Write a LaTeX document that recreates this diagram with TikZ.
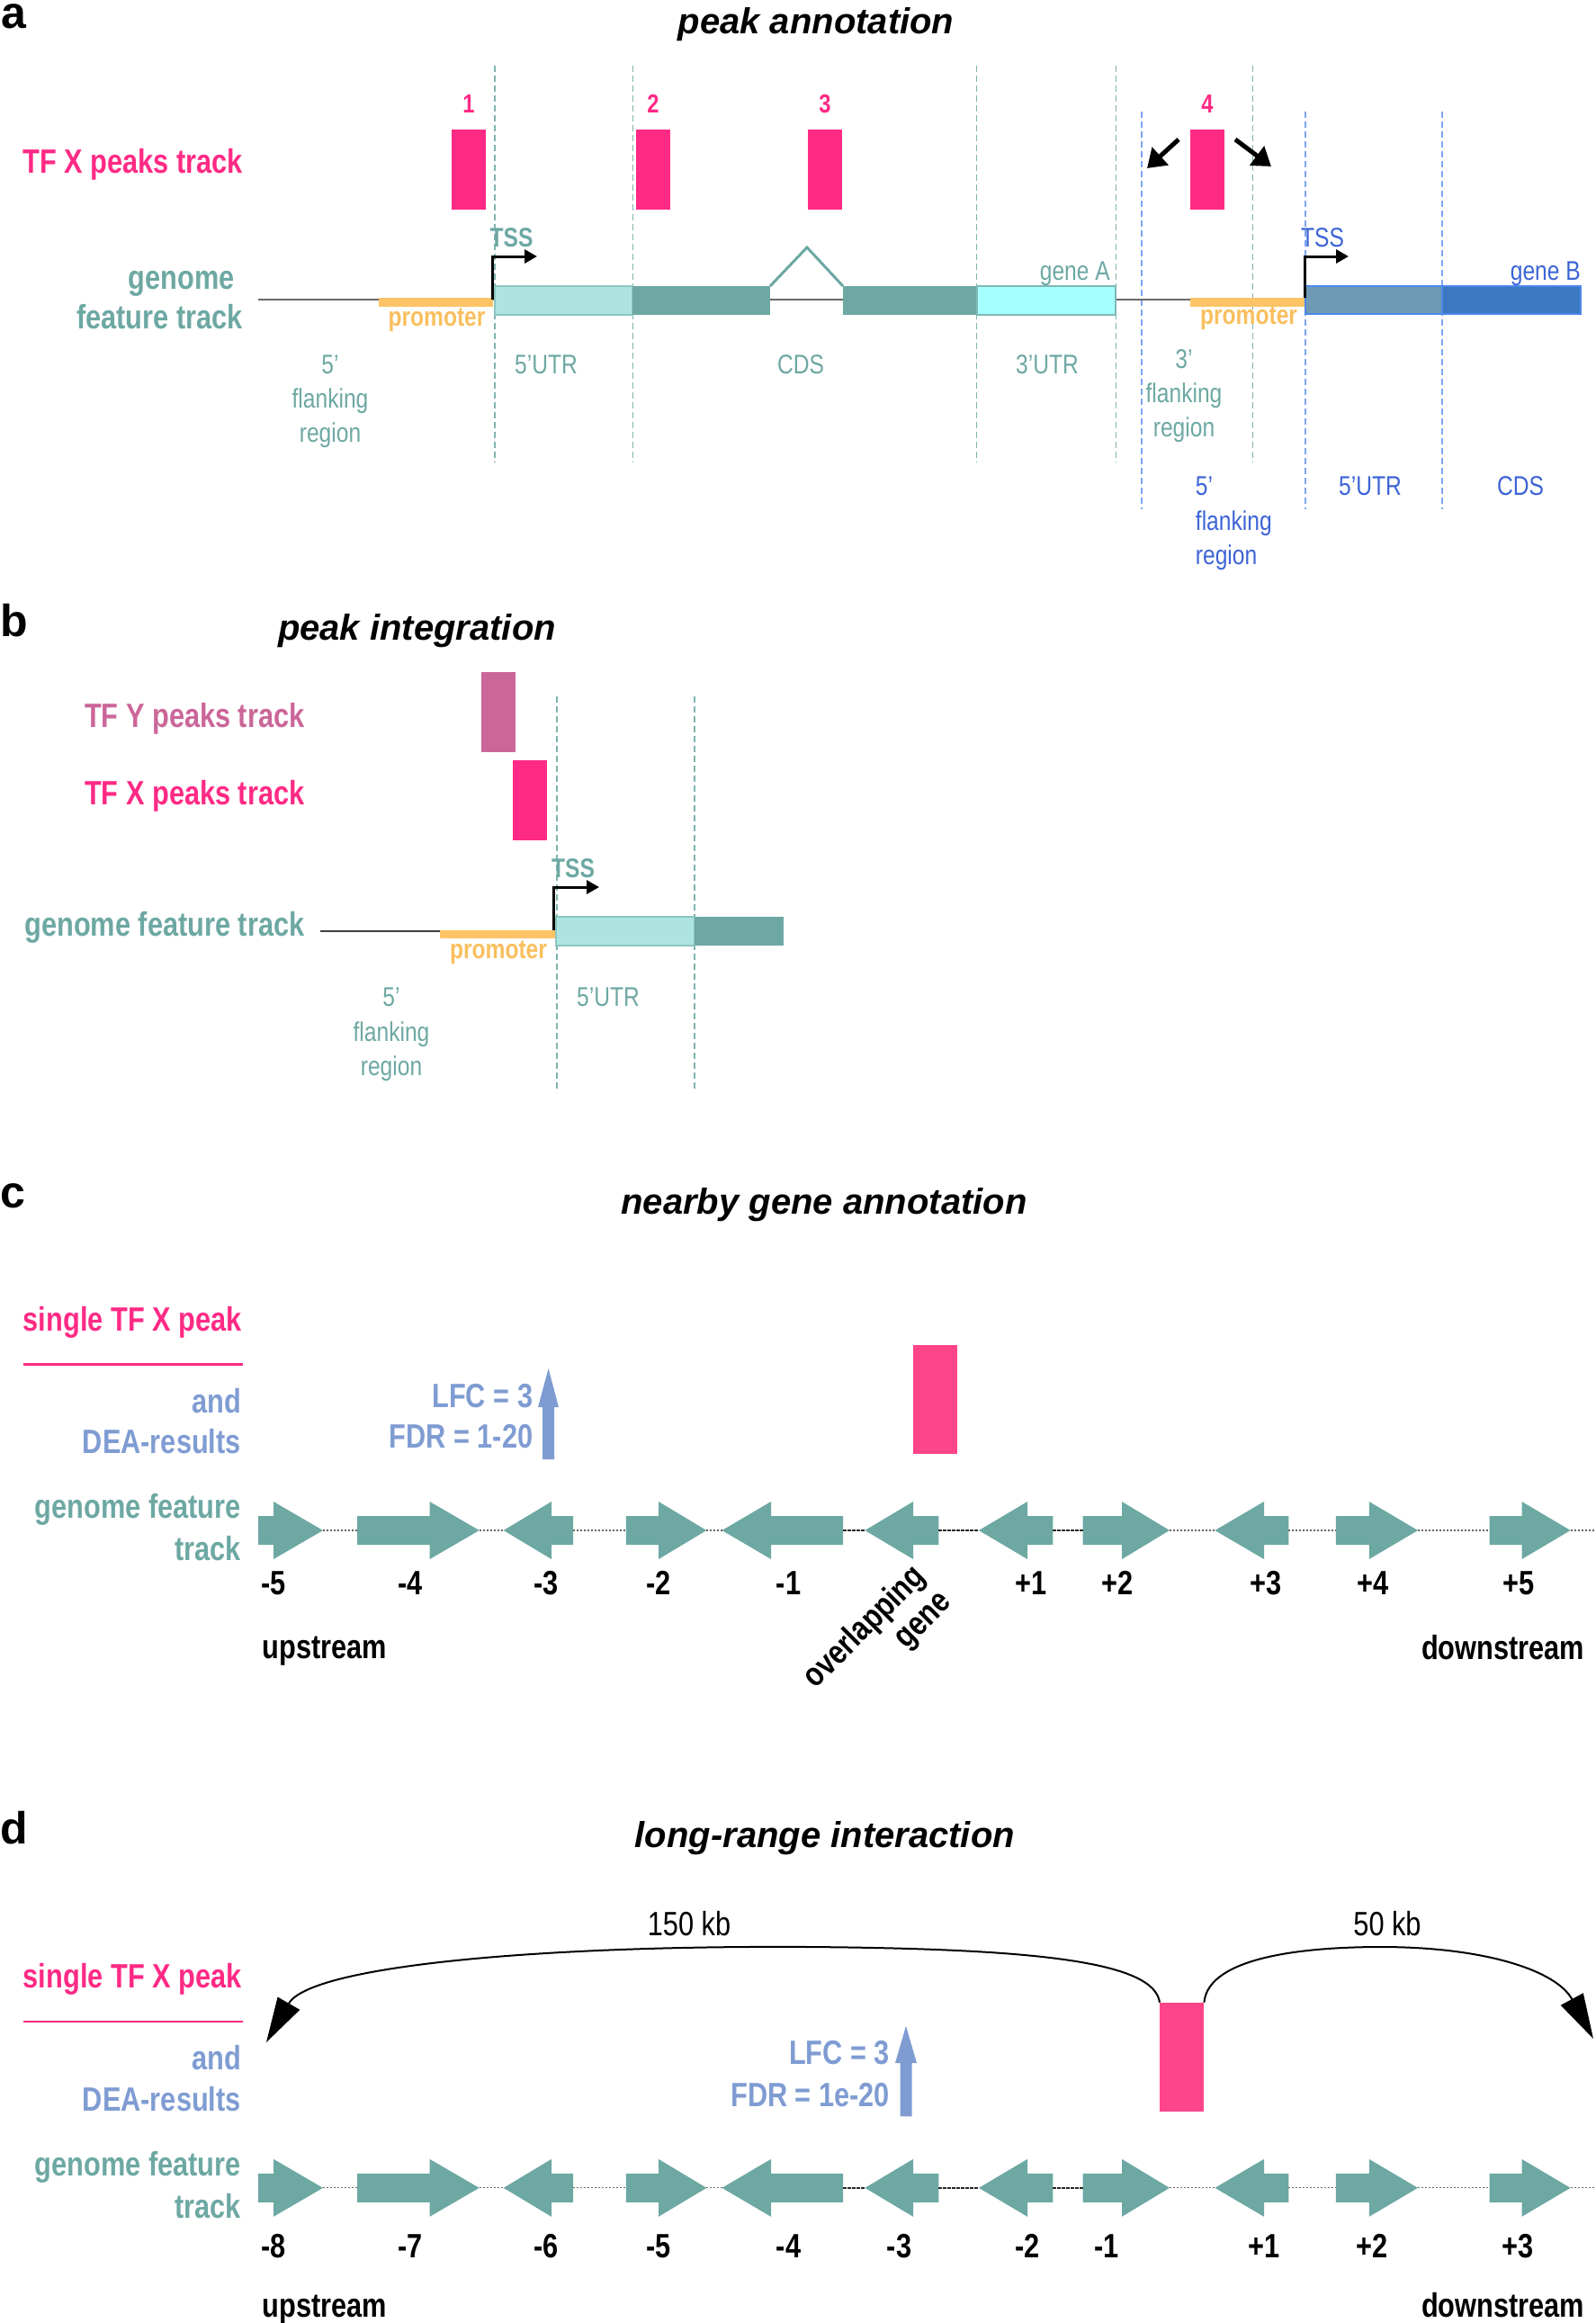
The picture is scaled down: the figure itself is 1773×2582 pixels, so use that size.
\documentclass[tikz,border=0pt]{standalone}
\usepackage{fontspec}
\setmainfont{Liberation Sans}
\newfontfamily\nar{Liberation Sans}[FakeStretch=0.82]
\usetikzlibrary{arrows.meta,calc}
\definecolor{pinkT}{HTML}{FF2A85}
\definecolor{pinkP}{HTML}{FF4589}
\definecolor{teal1}{HTML}{6DA8A3}
\definecolor{tealD}{HTML}{7FB3AE}
\definecolor{utrfive}{HTML}{ADE4E0}
\definecolor{utrfiveb}{HTML}{8CC6C1}
\definecolor{utrthree}{HTML}{A6FFFF}
\definecolor{utrthreeb}{HTML}{80B8B3}
\definecolor{mauve}{HTML}{CB6699}
\definecolor{orangeB}{HTML}{FCC466}
\definecolor{orangeT}{HTML}{F9BF5E}
\definecolor{blueT}{HTML}{3D64D6}
\definecolor{blueD}{HTML}{7DA4F2}
\definecolor{gBfive}{HTML}{6E9AB4}
\definecolor{gBcds}{HTML}{3C78C1}
\definecolor{gBb}{HTML}{4D88EC}
\definecolor{dea}{HTML}{7F9CD2}
\definecolor{gline}{HTML}{6A6A6A}
\newcommand{\geneR}[5]{%
  \fill[gene] (#3,#2-16) -- (#4,#2-16) -- (#4,#2-32) -- (#5,#2) -- (#4,#2+32) -- (#4,#2+16) -- (#3,#2+16) -- cycle;
  \coordinate (#1w) at (#3,#2); \coordinate (#1e) at (#5,#2);}
\newcommand{\geneL}[5]{%
  \fill[gene] (#3,#2) -- (#4,#2-32) -- (#4,#2-16) -- (#5,#2-16) -- (#5,#2+16) -- (#4,#2+16) -- (#4,#2+32) -- cycle;
  \coordinate (#1w) at (#3,#2); \coordinate (#1e) at (#5,#2);}
\newcommand{\genetrack}[2]{%
  \geneR{#1a}{#2}{287}{304}{359}
  \geneR{#1b}{#2}{397}{477.6}{532.7}
  \geneL{#1c}{#2}{559.7}{613}{637}
  \geneR{#1d}{#2}{695.8}{732}{785.3}
  \geneL{#1e}{#2}{802.5}{857}{937}
  \geneL{#1f}{#2}{961.4}{1015}{1043.4}
  \geneL{#1g}{#2}{1088}{1142}{1170.4}
  \geneR{#1h}{#2}{1203.5}{1247}{1300}
  \geneL{#1i}{#2}{1350.4}{1405}{1432.4}
  \geneR{#1j}{#2}{1484.8}{1521.8}{1576}
  \geneR{#1k}{#2}{1655.6}{1691.5}{1745.6}
  \coordinate (#1z) at (1773,#2);
  \draw[dotc] (#1ae) -- (#1bw);
  \draw[dotc] (#1be) -- (#1cw);
  \draw[dotc] (#1ce) -- (#1dw);
  \draw[dotc] (#1de) -- (#1ew);
  \draw[solc] (#1ee) -- (#1fw);
  \draw[solc] (#1fe) -- (#1gw);
  \draw[solc] (#1ge) -- (#1hw);
  \draw[dotc] (#1he) -- (#1iw);
  \draw[dotc] (#1ie) -- (#1jw);
  \draw[dotc] (#1je) -- (#1kw);
  \draw[dotc] (#1ke) -- (#1z);}
\begin{document}
\begin{tikzpicture}[x=1pt,y=-1pt,
  lab/.style={inner sep=0pt, font=\nar\bfseries\fontsize{37.5}{45}\selectfont},
  reg/.style={inner sep=0pt, font=\nar\fontsize{30}{38}\selectfont},
  small/.style={inner sep=0pt, font=\nar\bfseries\fontsize{30}{36}\selectfont},
  pnum/.style={inner sep=0pt, text=pinkT, font=\nar\bfseries\fontsize{29}{34}\selectfont},
  kb/.style={inner sep=0pt, font=\nar\fontsize{37.5}{45}\selectfont},
  ttl/.style={inner sep=0pt, font=\bfseries\itshape\fontsize{40}{48}\selectfont},
  pan/.style={inner sep=0pt, font=\bfseries\fontsize{50}{60}\selectfont},
  peakbox/.style={inner sep=0pt, outer sep=0pt, minimum width=38pt, minimum height=89pt, fill=pinkT},
  tdash/.style={tealD, line width=1.3pt, dash pattern=on 7pt off 4pt},
  bdash/.style={blueD, line width=1.3pt, dash pattern=on 7pt off 4pt},
  gene/.style={fill=teal1},
  dotc/.style={draw=black!60, line width=1.2pt, dash pattern=on 2pt off 2pt},
  solc/.style={draw=black!85, line width=1.5pt, dash pattern=on 4pt off 1pt},
  gl/.style={draw=gline, line width=2pt},
  tss/.style={line width=3pt, -{Triangle[length=14pt,width=15pt]}},
  kbarr/.style={line width=5pt, -{Triangle[length=20pt,width=26pt]}},
  lrarr/.style={line width=2pt, -{Triangle[length=50pt,width=28pt]}},
]
\useasboundingbox (0,0) rectangle (1773,2582);

% ================= panel a =================
\node[pan, anchor=base west] (la) at (1,32) {a};
\node[ttl, anchor=base] (ta) at (907,38) {peak annotation};
\foreach \x in {550,703.5,1085.6,1240.5,1392.5} \draw[tdash] (\x,72.6) -- (\x,514);
\foreach \x in {1269,1451,1603} \draw[bdash] (\x,124) -- (\x,566);
\node[pnum, anchor=base] (n1) at (521,126) {1};
\node[pnum, anchor=base] (n2) at (726,126) {2};
\node[pnum, anchor=base] (n3) at (917,126) {3};
\node[pnum, anchor=base] (n4) at (1342,126) {4};
\node[peakbox] (p1) at (521,188.5) {};
\node[peakbox] (p2) at (726,188.5) {};
\node[peakbox] (p3) at (917,188.5) {};
\node[peakbox] (p4) at (1342,188.5) {};
\draw[kbarr] ($(p4.north west)+(-13,11)$) -- ++(-35,32);
\draw[kbarr] ($(p4.north east)+(12,11)$) -- ++(40,30);
\node[lab, text=pinkT, anchor=base east] (tfxa) at (270,193) {TF X peaks track};
\node[lab, text=teal1, anchor=base east] (gfa1) at (261,321) {genome};
\node[lab, text=teal1, anchor=base east] (gfa2) at (270,365) {feature track};
\draw[gl] (287,333) -- (1450,333);
\fill[orangeB] (421,331) rectangle (548,341);
\fill[orangeB] (1322.5,331) rectangle (1450,341);
\draw[line width=2pt, draw=utrfiveb, fill=utrfive] (550,318) rectangle (703,349.5);
\fill[teal1] (703,318) rectangle (856,349.5);
\draw[teal1, line width=3pt] (856,318) -- (897,275) -- (937,318);
\fill[teal1] (937,318) rectangle (1086,349.5);
\draw[line width=2pt, draw=utrthreeb, fill=utrthree] (1086,318) rectangle (1240,349.5);
\draw[line width=2.5pt, draw=gBb, fill=gBfive] (1451,318) rectangle (1603,349);
\draw[line width=2.5pt, draw=gBb, fill=gBcds] (1603,318) rectangle (1757,349);
\draw[tss] (547,333) -- (547,285) -- (597,285);
\draw[tss] (1450,331) -- (1450,285) -- (1499,285);
\node[small, text=teal1, anchor=base] (tssa) at (568.5,274) {TSS};
\node[reg, text=blueT, anchor=base] (tssb) at (1470,274.5) {TSS};
\node[small, text=orangeT, anchor=base] (proa) at (485.5,362) {promoter};
\node[small, text=orangeT, anchor=base] (prob) at (1388,360.5) {promoter};
\node[reg, text=teal1, anchor=base east] (gA) at (1234,311) {gene A};
\node[reg, text=blueT, anchor=base east] (gB) at (1757,311) {gene B};
\node[reg, text=teal1, anchor=base] (fa1) at (367,415.5) {5’};
\node[reg, text=teal1, anchor=base] (fa2) at (367,453.5) {flanking};
\node[reg, text=teal1, anchor=base] (fa3) at (367,491.5) {region};
\node[reg, text=teal1, anchor=base] (u5a) at (607,415.5) {5’UTR};
\node[reg, text=teal1, anchor=base] (cdsa) at (890,415.5) {CDS};
\node[reg, text=teal1, anchor=base] (u3a) at (1164,415.5) {3’UTR};
\node[reg, text=teal1, anchor=base] (fb1) at (1316,409.5) {3’};
\node[reg, text=teal1, anchor=base] (fb2) at (1316,447.5) {flanking};
\node[reg, text=teal1, anchor=base] (fb3) at (1316,485.5) {region};
\node[reg, text=blueT, anchor=base west] (fc1) at (1328.7,550.5) {5’};
\node[reg, text=blueT, anchor=base west] (fc2) at (1328.7,589) {flanking};
\node[reg, text=blueT, anchor=base west] (fc3) at (1328.7,627.5) {region};
\node[reg, text=blueT, anchor=base] (u5b) at (1523,550.5) {5’UTR};
\node[reg, text=blueT, anchor=base] (cdsb) at (1690,550.5) {CDS};

% ================= panel b =================
\node[pan, anchor=base west] (lb) at (0,707) {b};
\node[ttl, anchor=base] (tb) at (463.5,711) {peak integration};
\foreach \x in {619,772} \draw[tdash] (\x,774) -- (\x,1214);
\node[peakbox, fill=mauve] (py) at (554.3,791.5) {};
\node[peakbox] (px) at (589,889.75) {};
\node[lab, text=mauve, anchor=base east] (tfyb) at (338.7,808.4) {TF Y peaks track};
\node[lab, text=pinkT, anchor=base east] (tfxb) at (338.7,894.5) {TF X peaks track};
\node[lab, text=teal1, anchor=base east] (gfb) at (338.7,1040) {genome feature track};
\draw[gl, line width=1.5pt, draw=black!75] (356,1035) -- (617,1035);
\fill[orangeB] (489,1034) rectangle (617,1043);
\draw[line width=2pt, draw=utrfiveb, fill=utrfive] (618,1019) rectangle (772,1050.6);
\fill[teal1] (772,1019) rectangle (871,1050.6);
\draw[tss] (615.4,1034) -- (615.4,986) -- (666,986);
\node[small, text=teal1, anchor=base] (tssc) at (637,975.6) {TSS};
\node[small, text=orangeT, anchor=base] (proc) at (554,1065.5) {promoter};
\node[reg, text=teal1, anchor=base] (fd1) at (435,1118.5) {5’};
\node[reg, text=teal1, anchor=base] (fd2) at (435,1157) {flanking};
\node[reg, text=teal1, anchor=base] (fd3) at (435,1195.5) {region};
\node[reg, text=teal1, anchor=base] (u5c) at (676,1118.5) {5’UTR};

% ================= panel c =================
\node[pan, anchor=base west] (lc) at (0,1342) {c};
\node[ttl, anchor=base] (tc) at (916,1349) {nearby gene annotation};
\node[lab, text=pinkT, anchor=base east] (sgc) at (268.7,1479) {single TF X peak};
\draw[pinkT, line width=2.5pt] (26,1516.6) -- (270,1516.6);
\node[lab, text=dea, anchor=base east] (andc) at (268,1570) {and};
\node[lab, text=dea, anchor=base east] (deac) at (268,1615.7) {DEA-results};
\node[lab, text=dea, anchor=base east] (lfcc) at (592.5,1564) {LFC = 3};
\node[lab, text=dea, anchor=base east] (fdrc) at (592.5,1609) {FDR = 1-20};
\fill[dea] (603,1622) -- (603,1564) -- (598,1564) -- (609.6,1521) -- (621,1564) -- (616,1564) -- (616,1622) -- cycle;
\node[lab, text=teal1, anchor=base east] (gfc1) at (268,1687) {genome feature};
\node[lab, text=teal1, anchor=base east] (gfc2) at (268,1734) {track};
\genetrack{c}{1701}
\node[peakbox, fill=pinkP, minimum width=49pt, minimum height=121pt] (pc) at (1039.5,1555.5) {};
\node[lab, anchor=base] at (304,1772.6) {-5};
\node[lab, anchor=base] at (456,1772.6) {-4};
\node[lab, anchor=base] at (607,1772.6) {-3};
\node[lab, anchor=base] at (732,1772.6) {-2};
\node[lab, anchor=base] at (876.6,1772.6) {-1};
\node[lab, anchor=base] at (1146,1772.6) {+1};
\node[lab, anchor=base] at (1241.6,1772.6) {+2};
\node[lab, anchor=base] at (1407,1772.6) {+3};
\node[lab, anchor=base] at (1526,1772.6) {+4};
\node[lab, anchor=base] at (1688,1772.6) {+5};
\node[lab, font=\nar\bfseries\fontsize{37.5}{40}\selectfont, align=right, anchor=north east, rotate=45] (ov) at (1011,1735) {overlapping\\gene};
\node[lab, anchor=base west] (upc) at (291.6,1843.4) {upstream};
\node[lab, anchor=base east] (dnc) at (1761.5,1844) {downstream};

% ================= panel d =================
\node[pan, anchor=base west] (ld) at (0,2049) {d};
\node[ttl, anchor=base] (td) at (916.8,2053.7) {long-range interaction};
\node[lab, text=pinkT, anchor=base east] (sgd) at (268.7,2209.6) {single TF X peak};
\draw[pinkT, line width=2.5pt] (26,2246.8) -- (270,2246.8);
\node[lab, text=dea, anchor=base east] (andd) at (268,2300.5) {and};
\node[lab, text=dea, anchor=base east] (dead) at (268,2346.6) {DEA-results};
\node[lab, text=dea, anchor=base east] (lfcd) at (989.3,2294.8) {LFC = 3};
\node[lab, text=dea, anchor=base east] (fdrd) at (989.3,2341) {FDR = 1e-20};
\fill[dea] (1000.5,2352.4) -- (1000.5,2293) -- (995,2293) -- (1007,2251.8) -- (1019,2293) -- (1013.5,2293) -- (1013.5,2352.4) -- cycle;
\node[lab, text=teal1, anchor=base east] (gfd1) at (268,2418) {genome feature};
\node[lab, text=teal1, anchor=base east] (gfd2) at (268,2465) {track};
\genetrack{d}{2431.8}
\node[peakbox, fill=pinkP, minimum width=49.4pt, minimum height=121pt] (pd) at (1313.7,2286.2) {};
\coordinate (tgl) at (296,2270);
\coordinate (tgr) at (1771,2266);
\draw[lrarr] (pd.north west) .. controls (1283,2180) and (1150,2166) .. (900,2164) .. controls (600,2162) and (345,2185) .. (tgl);
\draw[lrarr] (pd.north east) .. controls (1343,2175) and (1450,2164) .. (1535,2164) .. controls (1650,2164) and (1730,2190) .. (tgr);
\node[kb, anchor=base] (k150) at (766,2151) {150 kb};
\node[kb, anchor=base] (k50) at (1542,2151) {50 kb};
\node[lab, anchor=base] at (304,2509.8) {-8};
\node[lab, anchor=base] at (456,2509.8) {-7};
\node[lab, anchor=base] at (607,2509.8) {-6};
\node[lab, anchor=base] at (732,2509.8) {-5};
\node[lab, anchor=base] at (876.6,2509.8) {-4};
\node[lab, anchor=base] at (999.6,2509.8) {-3};
\node[lab, anchor=base] at (1142,2509.8) {-2};
\node[lab, anchor=base] at (1230,2509.8) {-1};
\node[lab, anchor=base] at (1405,2509.8) {+1};
\node[lab, anchor=base] at (1525,2509.8) {+2};
\node[lab, anchor=base] at (1687.5,2509.8) {+3};
\node[lab, anchor=base west] (upd) at (291.6,2575) {upstream};
\node[lab, anchor=base east] (dnd) at (1761.5,2575) {downstream};
\end{tikzpicture}
\end{document}
